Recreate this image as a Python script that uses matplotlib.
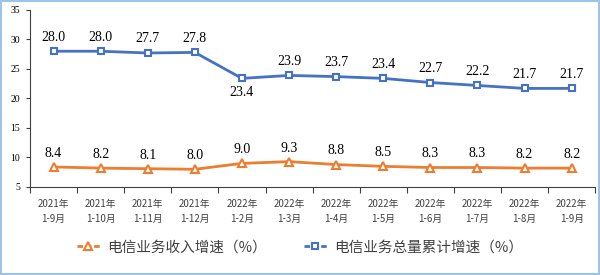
import matplotlib
matplotlib.use("Agg")
import matplotlib.pyplot as plt
from matplotlib.lines import Line2D
from matplotlib.patches import Rectangle

plt.rcParams['font.family'] = ['Noto Sans CJK SC', 'DejaVu Sans']

categories = ["2021年\n1-9月", "2021年\n1-10月", "2021年\n1-11月", "2021年\n1-12月",
              "2022年\n1-2月", "2022年\n1-3月", "2022年\n1-4月", "2022年\n1-5月",
              "2022年\n1-6月", "2022年\n1-7月", "2022年\n1-8月", "2022年\n1-9月"]
revenue = [8.4, 8.2, 8.1, 8.0, 9.0, 9.3, 8.8, 8.5, 8.3, 8.3, 8.2, 8.2]
volume = [28.0, 28.0, 27.7, 27.8, 23.4, 23.9, 23.7, 23.4, 22.7, 22.2, 21.7, 21.7]
yticks = [5, 10, 15, 20, 25, 30, 35]

BLUE = "#4472C4"
ORANGE = "#ED7D31"

fig = plt.figure(figsize=(6, 2.75), dpi=100)
ax = fig.add_axes([0.05, 0.32, 0.942, 0.644])

x = list(range(len(categories)))
ax.plot(x, volume, color=BLUE, lw=2, marker='s', ms=5, mfc='white', mec=BLUE, mew=1.5, zorder=3)
ax.plot(x, revenue, color=ORANGE, lw=2, marker='^', ms=6, mfc='white', mec=ORANGE, mew=1.5, zorder=3)

for i, v in enumerate(volume):
    if i == 4:
        ax.text(i, v - 1.3, f"{v:.1f}", ha='center', va='top', fontsize=10, family='Liberation Serif')
    else:
        ax.text(i, v + 1.3, f"{v:.1f}", ha='center', va='bottom', fontsize=10, family='Liberation Serif')
for i, v in enumerate(revenue):
    ax.text(i, v + 1.2, f"{v:.1f}", ha='center', va='bottom', fontsize=10, family='Liberation Serif')

ax.set_xlim(-0.5, len(categories) - 0.5)
ax.set_ylim(5, 35)
ax.set_yticks(yticks)
ax.set_yticklabels([str(t) for t in yticks], family='Liberation Serif', fontsize=7)
ax.set_xticks([i - 0.5 for i in range(len(categories) + 1)])
ax.set_xticklabels([])
ax.set_xticks(x, minor=True)
ax.set_xticklabels(categories, minor=True, fontsize=7, color="#404040", linespacing=1.5)
ax.tick_params(axis='x', which='minor', length=0, pad=9)
ax.tick_params(axis='x', which='major', length=4, color="#404040")
ax.tick_params(axis='y', length=3, color="#404040", pad=4)
for s in ['top', 'right']:
    ax.spines[s].set_visible(False)
for s in ['left', 'bottom']:
    ax.spines[s].set_color("#404040")

handles = [
    Line2D([], [], color=ORANGE, lw=2, ls=(0, (2, 1)), marker='^', ms=6, mfc='white', mec=ORANGE, mew=1.5),
    Line2D([], [], color=BLUE, lw=2, ls=(0, (2, 1)), marker='s', ms=5, mfc='white', mec=BLUE, mew=1.5),
]
fig.legend(handles, ["电信业务收入增速（%）", "电信业务总量累计增速（%）"], loc='center',
           bbox_to_anchor=(0.5, 0.1), ncol=2, frameon=False, fontsize=10.5,
           handlelength=1.6, columnspacing=2.5, handletextpad=0.5, labelcolor="#404040")

fig.patches.append(Rectangle((0.002, 0.004), 0.996, 0.992, transform=fig.transFigure,
                             fill=False, ec="#9DC3E6", lw=1.5))

fig.savefig("out.png", dpi=100)
